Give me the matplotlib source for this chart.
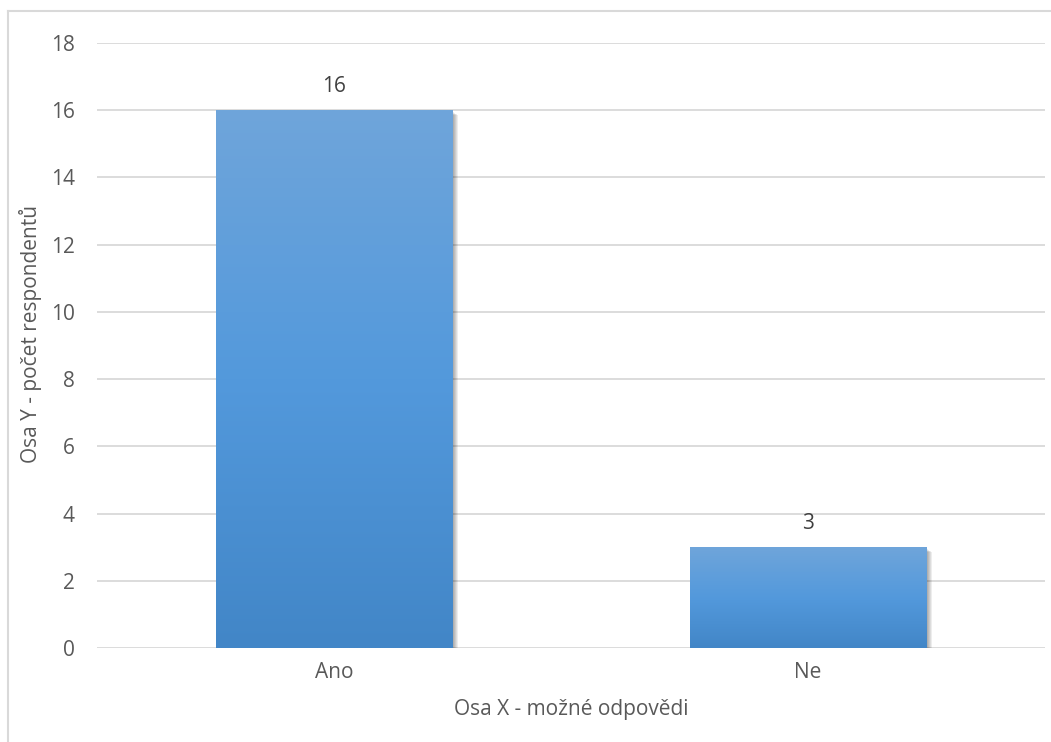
import matplotlib
matplotlib.use("Agg")
import matplotlib.pyplot as plt
import matplotlib.transforms as mtransforms
from matplotlib.patches import Rectangle
from matplotlib.colors import LinearSegmentedColormap
import numpy as np

categories = ["Ano", "Ne"]
counts = [16, 3]
y_ticks = [0, 2, 4, 6, 8, 10, 12, 14, 16, 18]
x_title = "Osa X - možné odpovědi"
y_title = "Osa Y - počet respondentů"

text_color = "#595959"
grid_color = "#D9D9D9"
font = ["Open Sans", "DejaVu Sans"]
fs = 15

fig = plt.figure(figsize=(10.51, 7.42), dpi=100)
fig.patch.set_facecolor("white")

# chart-area frame (left and top edges visible)
fig.add_artist(plt.Line2D([7.5 / 1051, 7.5 / 1051], [0, 1 - 10.5 / 742],
                          color=grid_color, lw=1.5, transform=fig.transFigure))
fig.add_artist(plt.Line2D([7.5 / 1051, 1], [1 - 10.5 / 742, 1 - 10.5 / 742],
                          color=grid_color, lw=1.5, transform=fig.transFigure))

ax = fig.add_axes([97 / 1051, 94 / 742, (1045 - 97) / 1051, (648 - 43) / 742])
ax.set_xlim(-0.5, len(categories) - 0.5)
ax.set_ylim(0, 18)
ax.set_yticks(y_ticks)
ax.set_yticklabels([str(t) for t in y_ticks], fontsize=fs, color=text_color, family=font)
ax.set_xticks(range(len(categories)))
ax.set_xticklabels(categories, fontsize=fs, color=text_color, family=font)
ax.tick_params(axis="both", length=0)
ax.tick_params(axis="y", pad=16)
ax.tick_params(axis="x", pad=10)
for s in ax.spines.values():
    s.set_visible(False)
ax.grid(axis="y", color=grid_color, lw=1.3)
ax.set_axisbelow(True)

cmap = LinearSegmentedColormap.from_list(
    "bar", [(0.0, "#4286C7"), (0.5, "#5399DC"), (1.0, "#6FA5DA")])
grad = np.linspace(0, 1, 256).reshape(-1, 1)

bar_w = 0.5
for i, v in enumerate(counts):
    x0 = i - bar_w / 2
    # soft shadow to the right and below
    for k in range(6):
        off = mtransforms.offset_copy(ax.transData, fig=fig,
                                      x=(k + 1) * 0.6, y=-(k + 1) * 0.6, units="points")
        ax.add_patch(Rectangle((x0, 0), bar_w, v, facecolor="black",
                               alpha=0.07, lw=0, transform=off, zorder=2))
    rect = Rectangle((x0, 0), bar_w, v, facecolor="none", lw=0, zorder=3)
    ax.add_patch(rect)
    im = ax.imshow(grad, cmap=cmap, origin="lower", aspect="auto",
                   extent=[x0, x0 + bar_w, 0, v], zorder=3, interpolation="bilinear")
    im.set_clip_path(rect)
    ax.annotate(str(v), (i, v), xytext=(0, 17), textcoords="offset points",
                ha="center", va="center", fontsize=fs, color="#404040", family=font)

ax.set_xlim(-0.5, len(categories) - 0.5)
ax.set_ylim(0, 18)

fig.text(571 / 1051, 1 - 710 / 742, x_title,
         ha="center", va="center", fontsize=fs, color=text_color, family=font)
fig.text(31 / 1051, 1 - 334 / 742, y_title, rotation=90,
         ha="center", va="center", fontsize=fs, color=text_color, family=font)

fig.savefig("out.png", dpi=100, facecolor="white")
